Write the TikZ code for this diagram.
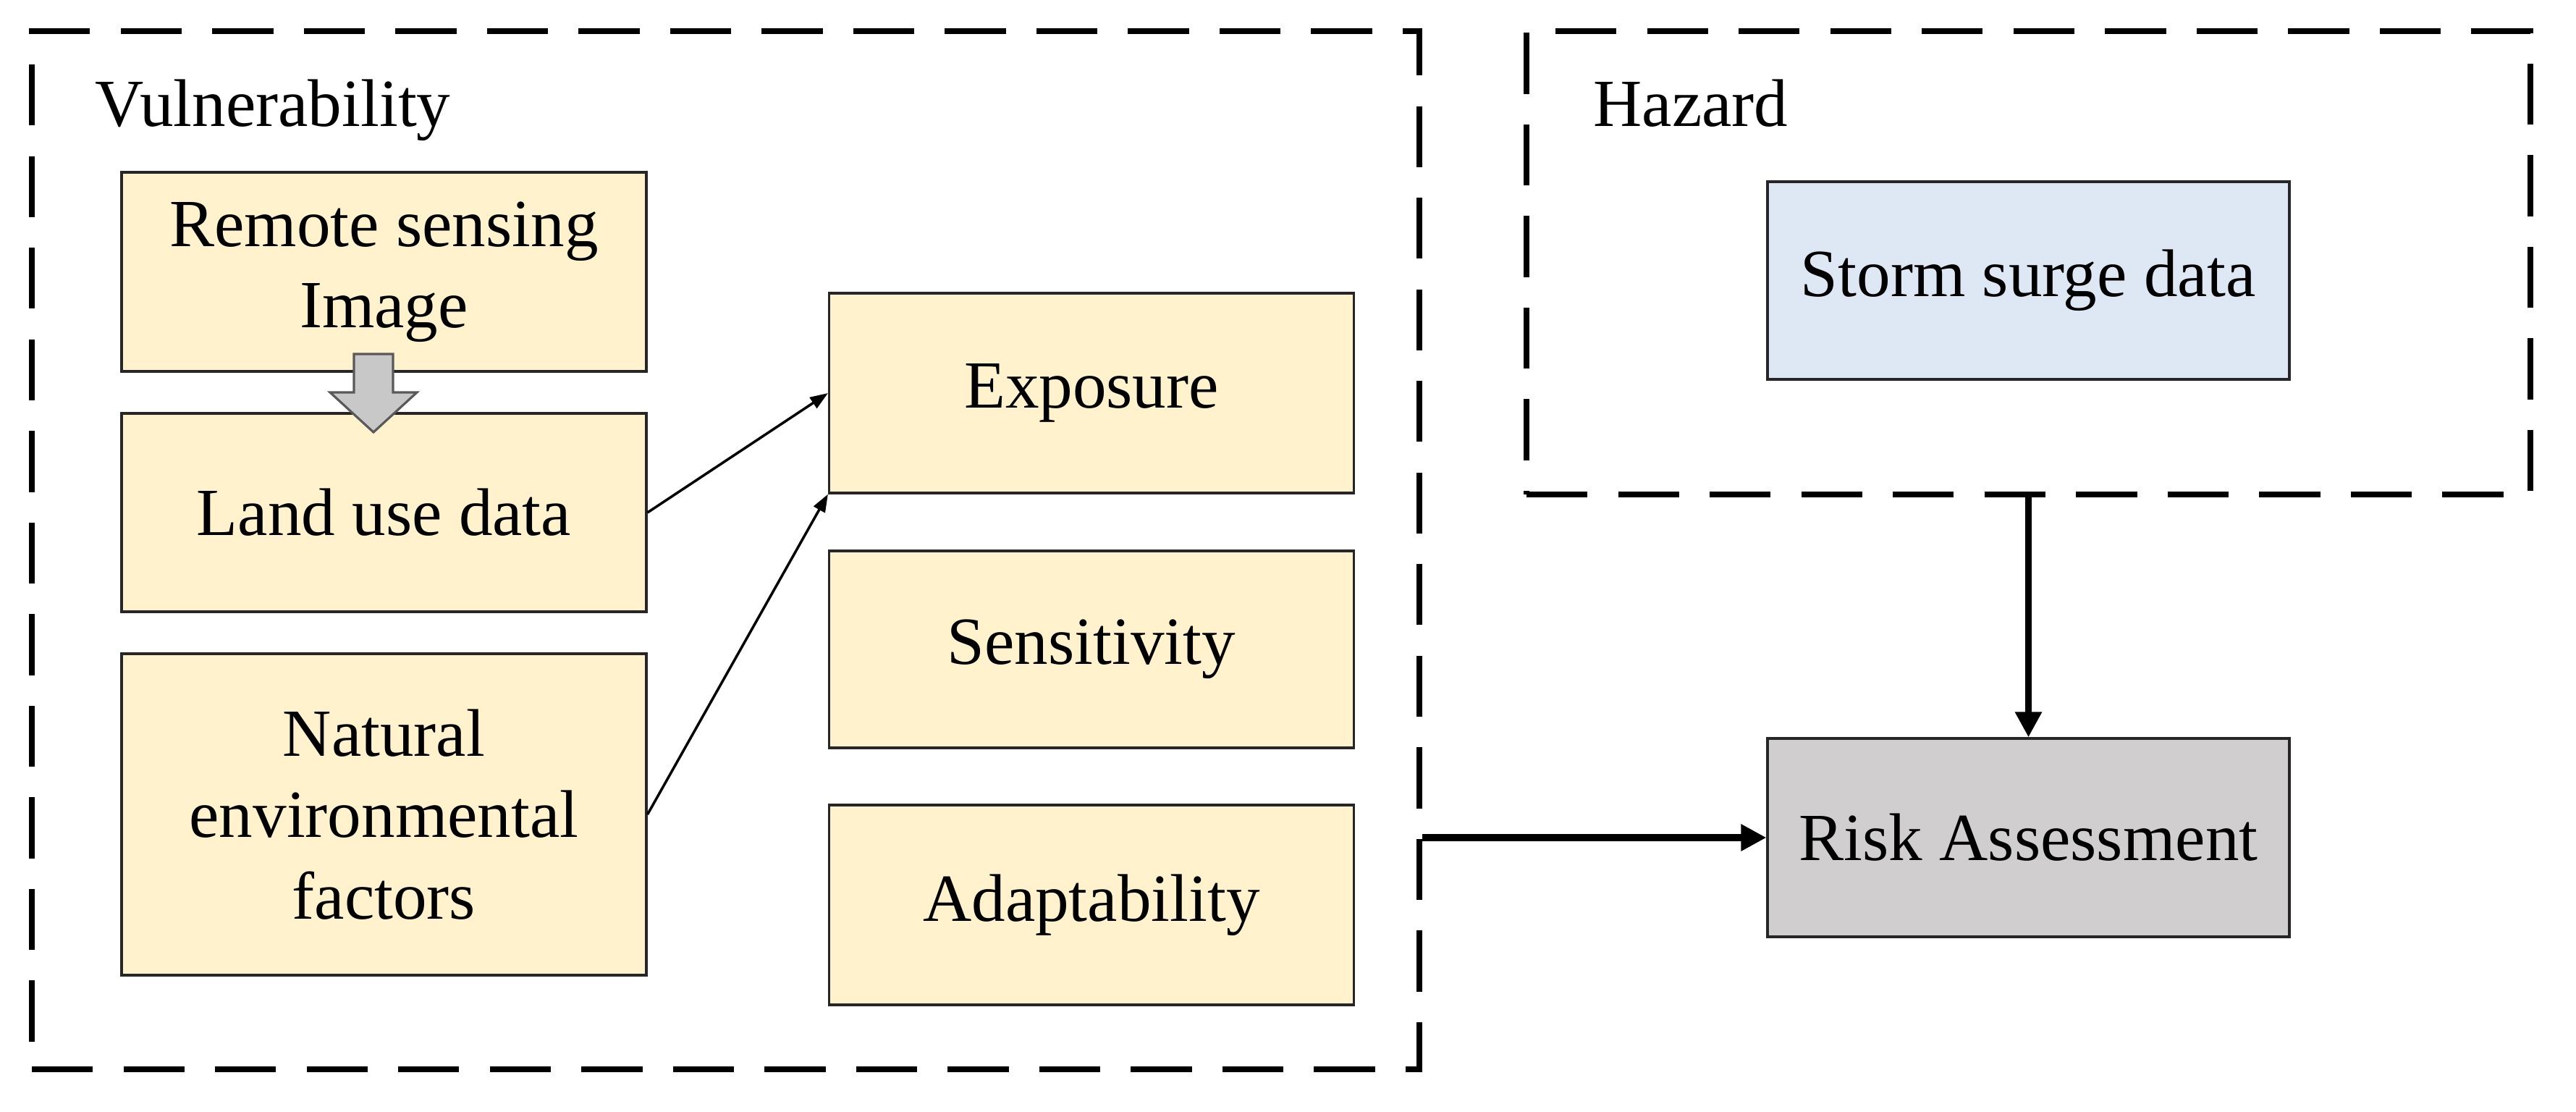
\documentclass[tikz,border=0pt]{standalone}
\usepackage{fontspec}
\setmainfont{Liberation Serif}
\usetikzlibrary{calc}
\usetikzlibrary{arrows.meta}

\definecolor{sandfill}{HTML}{FFF2CC}
\definecolor{skyfill}{HTML}{DEE7F4}
\definecolor{stonefill}{HTML}{D0CECE}
\definecolor{blockgray}{HTML}{C8C8C8}

\begin{document}
\begin{tikzpicture}[every node/.style={font=\fontsize{26.5pt}{32pt}\selectfont},
	boxnode/.style={draw=black!85, line width=0.9pt, minimum width=7.25cm, align=center, inner sep=0pt},
	sandnode/.style={boxnode, fill=sandfill},
	skynode/.style={boxnode, fill=skyfill, minimum width=7.21cm, minimum height=2.73cm},
	stonenode/.style={boxnode, fill=stonefill, minimum width=7.21cm, minimum height=2.74cm},
	dashnode/.style={draw=black, line width=2.5pt, dash pattern=on 24pt off 12pt, inner sep=0pt},
	thinarrow/.style={line width=1pt, -{Triangle[length=7pt,width=5pt]}},
	thickarrow/.style={line width=2.6pt, -{Triangle[length=10pt,width=10pt]}}]
			\useasboundingbox (0,0) rectangle (35.59,-15.36);

			\node[dashnode, minimum width=19.17cm, minimum height=14.34cm] (vuln) at (10.025,-7.60) {};
			\node[dashnode, minimum width=13.87cm, minimum height=6.40cm] (haz) at (28.025,-3.63) {};

			\node[anchor=base west] (vlabel) at (1.19,-1.75) {Vulnerability};
			\node[anchor=base west] (hlabel) at (21.89,-1.75) {Hazard};

			%left column
			\node[sandnode, minimum height=2.75cm] (remote) at (5.305,-3.755) {Remote sensing\\Image};
			\node[sandnode, minimum height=2.74cm] (landuse) at ($(remote)+(0,-3.325)$) {Land use data};
			\node[sandnode, minimum height=4.44cm] (natural) at ($(landuse)+(0,-4.17)$) {Natural\\environmental\\factors};

			%right column
			\node[sandnode, minimum height=2.76cm] (expo) at (15.08,-5.43) {Exposure};
			\node[sandnode, minimum height=2.72cm] (sens) at ($(expo)+(0,-3.54)$) {Sensitivity};
			\node[sandnode, minimum height=2.76cm] (adapt) at ($(sens)+(0,-3.53)$) {Adaptability};

			\node[skynode] (storm) at (28.025,-3.875) {Storm surge data};
			\node[stonenode] (risk) at (28.025,-11.57) {Risk Assessment};

			\coordinate (gtop) at (5.16,-4.89);
			\draw[fill=blockgray, draw=black!65, line width=0.9pt] ($(gtop)+(-0.27,0)$) -- ++(0.54,0) -- ++(0,-0.53) -- ++(0.33,0) -- ++(-0.6,-0.55) -- ++(-0.6,0.55) -- ++(0.33,0) -- cycle;

			\draw[thinarrow] (landuse.east) -- (expo.west);
			\draw[thinarrow] (natural.east) -- (expo.south west);

			\draw[thickarrow] (vuln.east |- risk.west) -- (risk.west);
			\draw[thickarrow] (haz.south) -- (risk.north);

		\end{tikzpicture}
\end{document}
